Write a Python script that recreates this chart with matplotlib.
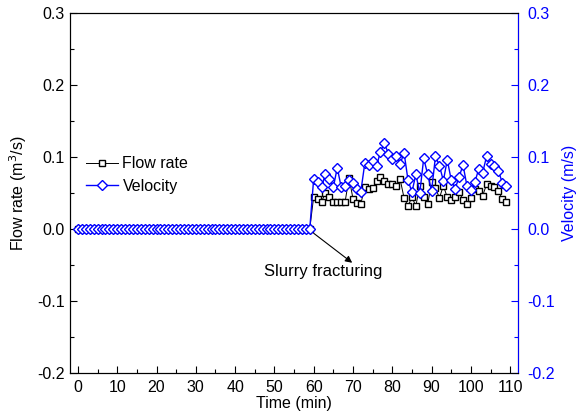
import matplotlib.pyplot as plt
import numpy as np

plt.rcParams['font.family'] = ['Liberation Sans', 'DejaVu Sans']
plt.rcParams['font.size'] = 11.5

# time in minutes: flat zero phase then slurry fracturing phase
time_zero = np.arange(0, 60)
time_frac = np.arange(60, 110)

flow_frac = [0.045, 0.042, 0.038, 0.050, 0.045, 0.038, 0.038, 0.038, 0.038, 0.071,
             0.042, 0.036, 0.035, 0.058, 0.056, 0.057, 0.066, 0.072, 0.066, 0.062,
             0.062, 0.059, 0.069, 0.043, 0.032, 0.044, 0.032, 0.060, 0.045, 0.034,
             0.065, 0.057, 0.043, 0.060, 0.044, 0.040, 0.044, 0.052, 0.040, 0.034,
             0.043, 0.056, 0.053, 0.046, 0.062, 0.059, 0.058, 0.053, 0.041, 0.038]

vel_frac = [0.070, 0.065, 0.058, 0.077, 0.070, 0.058, 0.085, 0.058, 0.060, 0.068,
            0.064, 0.055, 0.052, 0.091, 0.089, 0.094, 0.088, 0.107, 0.120, 0.104,
            0.097, 0.102, 0.090, 0.106, 0.068, 0.051, 0.076, 0.050, 0.098, 0.076,
            0.053, 0.101, 0.088, 0.067, 0.096, 0.068, 0.056, 0.072, 0.089, 0.060,
            0.054, 0.065, 0.083, 0.078, 0.101, 0.090, 0.087, 0.081, 0.064, 0.060]

time = np.concatenate([time_zero, time_frac])
flow = np.concatenate([np.zeros(len(time_zero)), flow_frac])
vel = np.concatenate([np.zeros(len(time_zero)), vel_frac])

fig = plt.figure(figsize=(5.84, 4.19), dpi=100)
ax = fig.add_axes([0.120, 0.110, 0.767, 0.859])
ax2 = ax.twinx()

ax.plot(time, flow, color='black', lw=0.7, marker='s', ms=4.8, mfc='white',
        mec='black', mew=1.0, label='Flow rate')
ax2.plot(time, vel, color='blue', lw=1.0, marker='D', ms=5.3, mfc='white',
         mec='blue', mew=1.0, label='Velocity')

for a in (ax, ax2):
    a.set_xlim(-2, 112)
    a.set_ylim(-0.2, 0.3)
    a.set_yticks([-0.2, -0.1, 0.0, 0.1, 0.2, 0.3])
    a.set_yticks(np.arange(-0.15, 0.3, 0.1), minor=True)

ax.set_xticks(np.arange(0, 111, 10))
ax.set_xticks(np.arange(5, 111, 10), minor=True)
ax.yaxis.set_major_formatter(plt.FormatStrFormatter('%.1f'))
ax2.yaxis.set_major_formatter(plt.FormatStrFormatter('%.1f'))

ax.tick_params(which='major', direction='in', length=5, width=0.8, top=False)
ax.tick_params(which='minor', direction='in', length=3, width=0.8, top=False)
ax.tick_params(axis='y', which='major', pad=4)
ax.tick_params(axis='x', which='major', pad=5)
ax2.tick_params(which='major', direction='in', length=5, width=0.8, colors='blue', pad=7)
ax2.tick_params(which='minor', direction='in', length=3, width=0.8, colors='blue')
ax2.spines['right'].set_color('blue')

ax.set_xlabel('Time (min)', labelpad=1)
ax.set_ylabel('Flow rate (m$^3$/s)', labelpad=6)
ax2.set_ylabel('Velocity (m/s)', color='blue', labelpad=5)

ax.text(62.5, -0.059, 'Slurry fracturing', ha='center', va='center', fontsize=12)
# arrow from the jump point down to the label
ax.annotate('', xy=(69.8, -0.047), xytext=(60, -0.006),
            arrowprops=dict(arrowstyle='-|>', color='black', lw=0.8,
                            mutation_scale=10, shrinkA=0, shrinkB=0))

h1, l1 = ax.get_legend_handles_labels()
h2, l2 = ax2.get_legend_handles_labels()
ax2.legend(h1 + h2, l1 + l2, loc='center left', bbox_to_anchor=(0.01, 0.55),
           frameon=False, handlelength=2.0, handletextpad=0.3, labelspacing=0.45,
           borderaxespad=0.3)

fig.savefig('out.png', dpi=100)
